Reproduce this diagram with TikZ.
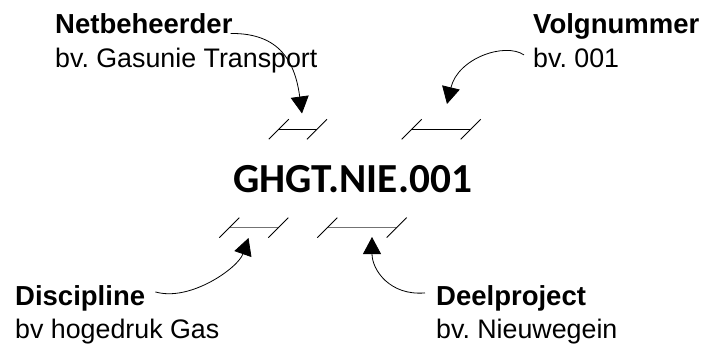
\documentclass[tikz,border=0pt]{standalone}
\usepackage{fontspec}
\setmainfont{Liberation Sans}
\newfontfamily\codefont{Carlito}
\usetikzlibrary{arrows.meta}
\frenchspacing
\tikzset{
  title/.style={anchor=base west, inner sep=0pt, font=\fontsize{27.5}{33}\selectfont\bfseries},
  example/.style={anchor=base west, inner sep=0pt, font=\fontsize{26.8}{32}\selectfont},
  codetext/.style={anchor=base west, inner sep=0pt, font=\codefont\bfseries\fontsize{41.3}{48}\selectfont},
  pointer/.style={line width=0.8pt, -{Triangle[length=17pt,width=18pt]}},
  % a segment marker: horizontal span with slanted end ticks
  pics/bracket/.style 2 args={code={
    \draw[line width=1pt, draw=#2] (0,0) -- (#1,0);
    \draw[line width=0.9pt] (-10,10) -- (10,-10);
    \draw[line width=0.9pt] (#1-10,10) -- (#1+10,-10);
  }},
}
\begin{document}
\begin{tikzpicture}[x=1pt,y=-1pt]
\useasboundingbox (0,0) rectangle (704,343);

% labels
\node[title]   (net)   at (55,33)   {Netbeheerder};
\node[example] (netex) at (55,67.5) {bv. Gasunie Transport};
\node[title]   (vol)   at (533,33)  {Volgnummer};
\node[example] (volex) at (533,67.5) {bv. 001};
\node[title]   (disc)  at (15,305)  {Discipline};
\node[example] (discex) at (15,338) {bv hogedruk Gas};
\node[title]   (deel)  at (436,305) {Deelproject};
\node[example] (deelex) at (436,338) {bv. Nieuwegein};

% the code itself
\node[codetext] (code) at (233,192) {GHGT.NIE.001};

% segment markers
\pic at (278.8,129.3) {bracket={38.2}{black}};
\pic at (411.7,129.3) {bracket={59}{black}};
\pic at (229.3,227.6) {bracket={49}{black!55}};
\pic at (327.3,227.6) {bracket={69.4}{black!55}};

% arrow targets
\coordinate (netend)  at (302,113.5);
\coordinate (volend)  at (447,104);
\coordinate (discend) at (248.5,238);
\coordinate (deelend) at (372,237);

% pointers
\draw[pointer] ([xshift=-2pt]net.south east) .. controls (280,33) and (295,62) .. (netend);
\draw[pointer] ([xshift=-9pt,yshift=3pt]volex.west) .. controls (505,42) and (458,58) .. (volend);
\draw[pointer] ([xshift=10pt,yshift=6pt]disc.east) .. controls (190,302) and (238,268) .. (discend);
\draw[pointer] ([xshift=-11pt,yshift=5pt]deel.west) .. controls (390,296) and (372,270) .. (deelend);
\end{tikzpicture}
\end{document}
